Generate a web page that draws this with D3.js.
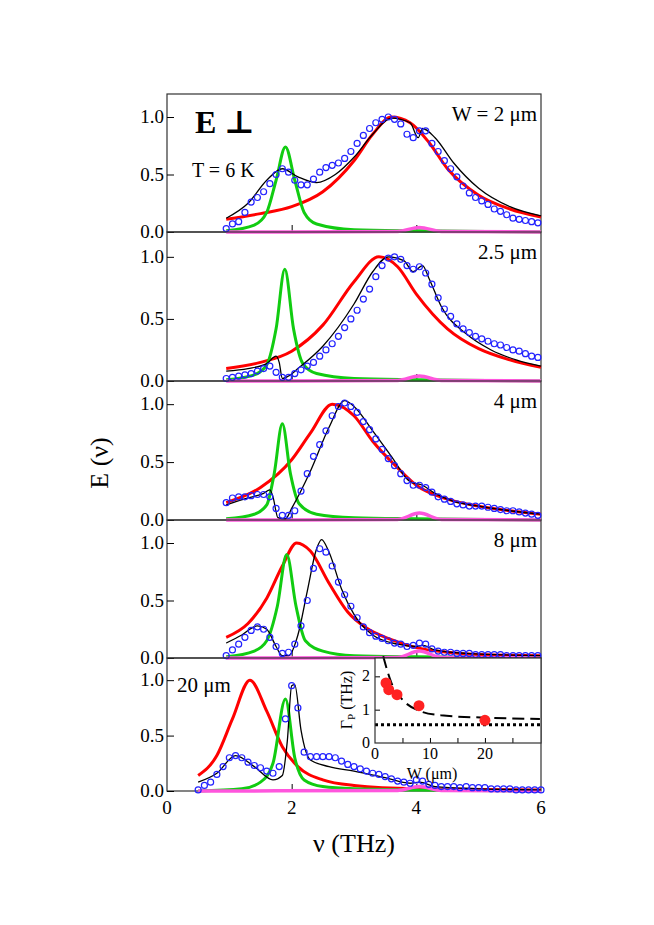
<!DOCTYPE html>
<html><head><meta charset="utf-8">
<script src="https://cdn.jsdelivr.net/npm/d3@7"></script>
<style>body{margin:0;background:#fff}text{font-family:"Liberation Serif","DejaVu Serif",serif}</style>
</head><body>
<script>
// panel labels
var labels = ["W = 2 \u03bcm", "2.5 \u03bcm", "4 \u03bcm", "8 \u03bcm", "20 \u03bcm"];
var bounds = [94, 232, 381, 520, 658, 791];

// fitted curves, key points [THz, E]
var red = [
  [[0.95,0.11],[1.5,0.16],[2,0.22],[2.5,0.35],[3,0.62],[3.3,0.85],[3.6,1.0],[3.9,0.95],[4.2,0.78],[4.5,0.55],[5,0.32],[5.5,0.2],[6,0.13]],
  [[0.95,0.1],[1.5,0.15],[2,0.24],[2.5,0.45],[3,0.8],[3.4,1.0],[3.7,0.92],[4,0.7],[4.5,0.42],[5,0.26],[5.5,0.17],[6,0.11]],
  [[0.95,0.15],[1.5,0.28],[2,0.52],[2.3,0.75],[2.65,1.0],[3,0.9],[3.3,0.68],[3.7,0.45],[4,0.3],[4.5,0.18],[5,0.12],[5.5,0.08],[6,0.05]],
  [[0.95,0.18],[1.3,0.3],[1.6,0.52],[1.85,0.8],[2.08,1.0],[2.3,0.93],[2.6,0.65],[2.9,0.4],[3.2,0.26],[3.6,0.16],[4,0.09],[4.5,0.05],[5,0.03],[6,0.02]],
  [[0.5,0.14],[0.8,0.32],[1.05,0.65],[1.33,1.0],[1.6,0.72],[1.85,0.4],[2.1,0.22],[2.5,0.1],[3,0.05],[4,0.02],[6,0.01]]
];
var black = [
  [[0.95,0.12],[1.3,0.25],[1.6,0.45],[1.85,0.55],[2.1,0.48],[2.4,0.43],[2.7,0.5],[3.0,0.65],[3.3,0.85],[3.6,0.99],[3.9,0.95],[4.03,0.82],[4.1,0.9],[4.3,0.82],[4.6,0.6],[5,0.38],[5.5,0.22],[6,0.14]],
  [[0.95,0.08],[1.3,0.1],[1.6,0.14],[1.75,0.2],[1.8,0.15],[1.85,0.02],[1.95,0.04],[2.1,0.1],[2.5,0.28],[3,0.62],[3.3,0.88],[3.55,1.0],[3.8,0.97],[3.95,0.88],[4.1,0.93],[4.2,0.83],[4.4,0.6],[4.8,0.38],[5.2,0.25],[5.6,0.17],[6,0.12]],
  [[0.95,0.13],[1.3,0.19],[1.55,0.23],[1.65,0.26],[1.7,0.2],[1.78,0.02],[1.9,0.01],[2.0,0.1],[2.3,0.42],[2.6,0.8],[2.85,1.03],[3.0,0.98],[3.3,0.77],[3.6,0.55],[3.9,0.33],[4.1,0.3],[4.3,0.23],[4.6,0.16],[5,0.12],[5.5,0.08],[6,0.05]],
  [[0.95,0.13],[1.2,0.2],[1.45,0.28],[1.6,0.25],[1.75,0.1],[1.85,0.02],[1.95,0.02],[2.1,0.2],[2.25,0.58],[2.4,0.95],[2.48,1.03],[2.6,0.92],[2.8,0.6],[3.0,0.38],[3.3,0.2],[3.7,0.12],[4.0,0.1],[4.1,0.11],[4.3,0.07],[4.8,0.04],[6,0.02]],
  [[0.5,0.08],[0.8,0.16],[1.1,0.32],[1.4,0.22],[1.7,0.1],[1.85,0.14],[1.93,0.45],[2.0,0.95],[2.05,0.96],[2.15,0.55],[2.3,0.28],[2.6,0.22],[3,0.18],[3.5,0.12],[3.9,0.07],[4.05,0.08],[4.3,0.04],[5,0.02],[6,0.01]]
];
var green = [
  [[0.95,0.01],[1.4,0.06],[1.6,0.17],[1.75,0.45],[1.9,0.74],[2.05,0.45],[2.2,0.17],[2.4,0.07],[3,0.02],[4,0.01],[6,0]],
  [[0.95,0.01],[1.4,0.05],[1.6,0.13],[1.75,0.42],[1.89,0.9],[2.03,0.42],[2.18,0.14],[2.4,0.06],[3,0.02],[4,0.01],[6,0]],
  [[0.95,0.01],[1.4,0.05],[1.6,0.13],[1.72,0.4],[1.85,0.83],[1.98,0.4],[2.12,0.14],[2.4,0.05],[3,0.02],[4,0.01],[6,0]],
  [[0.95,0.01],[1.4,0.06],[1.6,0.15],[1.77,0.45],[1.92,0.9],[2.07,0.45],[2.22,0.15],[2.5,0.06],[3,0.02],[4,0.01],[6,0]],
  [[0.5,0],[1.2,0.02],[1.5,0.08],[1.7,0.25],[1.9,0.83],[2.05,0.3],[2.2,0.1],[2.5,0.04],[3,0.02],[4,0.01],[6,0]]
];
var pink = [
  [[0.95,0],[3.7,0.005],[4.05,0.04],[4.4,0.005],[6,0]],
  [[0.95,0],[3.7,0.005],[4.05,0.04],[4.4,0.005],[6,0]],
  [[0.95,0],[3.7,0.005],[4.05,0.06],[4.4,0.005],[6,0]],
  [[0.95,0],[3.7,0.005],[4.05,0.06],[4.4,0.005],[6,0]],
  [[0.5,0],[3.7,0.005],[4.05,0.04],[4.4,0.005],[6,0]]
];

// measured points, start + step 0.1 THz
var dataStart = [0.95, 0.95, 0.95, 0.95, 0.5];
var dataY = [
  [0.03,0.07,0.09,0.17,0.26,0.3,0.35,0.42,0.5,0.55,0.52,0.45,0.41,0.41,0.46,0.52,0.56,0.58,0.6,0.64,0.7,0.77,0.84,0.9,0.95,0.98,1.0,0.98,0.94,0.85,0.82,0.88,0.88,0.77,0.7,0.62,0.55,0.48,0.4,0.34,0.3,0.27,0.24,0.2,0.18,0.15,0.12,0.11,0.1,0.09,0.08],
  [0.02,0.03,0.04,0.05,0.06,0.08,0.1,0.12,0.07,0.03,0.03,0.06,0.09,0.12,0.15,0.2,0.25,0.3,0.36,0.43,0.5,0.57,0.66,0.74,0.84,0.93,0.99,1.0,0.98,0.93,0.9,0.92,0.87,0.78,0.67,0.58,0.52,0.46,0.42,0.39,0.36,0.34,0.32,0.3,0.29,0.27,0.25,0.24,0.22,0.2,0.19],
  [0.15,0.19,0.2,0.2,0.21,0.22,0.22,0.2,0.1,0.04,0.04,0.08,0.25,0.4,0.55,0.65,0.77,0.9,0.98,1.01,0.98,0.93,0.85,0.78,0.7,0.61,0.53,0.47,0.4,0.34,0.3,0.3,0.28,0.24,0.2,0.18,0.16,0.14,0.13,0.12,0.12,0.12,0.11,0.1,0.09,0.08,0.08,0.07,0.06,0.05,0.04],
  [0.02,0.07,0.12,0.18,0.24,0.27,0.25,0.18,0.1,0.04,0.05,0.12,0.28,0.5,0.78,0.95,0.92,0.8,0.66,0.55,0.45,0.35,0.27,0.22,0.19,0.17,0.15,0.13,0.12,0.1,0.11,0.13,0.12,0.08,0.06,0.05,0.05,0.04,0.04,0.04,0.03,0.03,0.03,0.03,0.03,0.02,0.02,0.02,0.02,0.02,0.02],
  [0.01,0.05,0.08,0.15,0.22,0.3,0.32,0.3,0.26,0.23,0.21,0.18,0.16,0.22,0.65,0.95,0.75,0.35,0.31,0.31,0.31,0.31,0.3,0.27,0.24,0.22,0.2,0.18,0.16,0.15,0.13,0.11,0.09,0.08,0.07,0.1,0.09,0.06,0.05,0.04,0.04,0.04,0.03,0.04,0.03,0.03,0.03,0.02,0.02,0.02,0.02,0.01,0.01,0.01,0.01,0.01]
];

// inset
var insetW = [2, 2.5, 4, 8, 20];
var insetG = [1.8, 1.6, 1.45, 1.12, 0.68];
var insetFit = [[1.5,2.6],[2,2.3],[3,1.8],[5,1.3],[8,0.97],[12,0.83],[20,0.76],[30,0.72]];
var insetLimit = 0.55;

var svg = d3.select("body").append("svg").attr("width", 654).attr("height", 925);
var x = d3.scaleLinear().domain([0, 6]).range([167, 541]);

bounds.slice(0, 5).forEach(function(top, i) {
  var bottom = bounds[i + 1];
  var y = d3.scaleLinear().domain([0, 1.2]).range([bottom, top]);
  var g = svg.append("g");
  var line = d3.line().x(function(d) { return x(d[0]); }).y(function(d) { return y(d[1]); }).curve(d3.curveMonotoneX);

  g.append("rect").attr("x", 167).attr("y", top).attr("width", 374).attr("height", bottom - top)
    .attr("fill", "none").attr("stroke", "#333").attr("stroke-width", 1.2);
  var ya = g.append("g").attr("transform", "translate(167,0)")
    .call(d3.axisRight(y).tickValues([0, 0.5, 1]).tickSize(7).tickFormat(""));
  ya.select(".domain").remove();
  g.selectAll(".ylab").data([0, 0.5, 1]).enter().append("text")
    .attr("x", 164).attr("y", function(d) { return y(d) + 6; })
    .attr("text-anchor", "end").attr("font-size", 19).text(d3.format(".1f"));
  var xa = g.append("g").attr("transform", "translate(0," + bottom + ")")
    .call(d3.axisTop(x).tickValues([2, 4]).tickSize(7).tickFormat(""));
  xa.select(".domain").remove();

  g.append("path").attr("d", line(red[i])).attr("fill", "none").attr("stroke", "#f00").attr("stroke-width", 3);
  g.append("path").attr("d", line(green[i])).attr("fill", "none").attr("stroke", "#1c1").attr("stroke-width", 3);
  g.append("path").attr("d", line(pink[i])).attr("fill", "none").attr("stroke", "#f5d").attr("stroke-width", 3.5);
  g.append("path").attr("d", line(black[i])).attr("fill", "none").attr("stroke", "#000").attr("stroke-width", 1.3);

  g.selectAll("circle").data(dataY[i]).enter().append("circle")
    .attr("cx", function(d, j) { return x(dataStart[i] + j * 0.1); })
    .attr("cy", function(d) { return y(d); })
    .attr("r", 3).attr("fill", "none").attr("stroke", "#22f").attr("stroke-width", 1.2);

  if (i < 4) {
    g.append("text").attr("x", 537).attr("y", top + 27).attr("text-anchor", "end").attr("font-size", 21).text(labels[i]);
  } else {
    g.append("text").attr("x", 177).attr("y", top + 34).attr("font-size", 21).text(labels[i]);
  }
});

svg.selectAll(".xlab").data([0, 2, 4, 6]).enter().append("text")
  .attr("x", function(d) { return x(d); }).attr("y", 814).attr("text-anchor", "middle").attr("font-size", 19).text(function(d) { return d; });

svg.append("text").attr("x", 354).attr("y", 852).attr("text-anchor", "middle").attr("font-size", 26).text("\u03bd (THz)");
svg.append("text").attr("transform", "translate(108,463) rotate(-90)").attr("text-anchor", "middle").attr("font-size", 26).text("E (\u03bd)");
svg.append("text").attr("x", 195).attr("y", 133).attr("font-size", 32).attr("font-weight", "bold").text("E \u22a5");
svg.append("text").attr("x", 192).attr("y", 177).attr("font-size", 20).text("T = 6 K");

// inset
var ix = d3.scaleLinear().domain([0, 30.2]).range([375, 541]);
var iy = d3.scaleLinear().domain([0, 2.55]).range([743, 658]);
var ig = svg.append("g");
ig.append("rect").attr("x", 375).attr("y", 658).attr("width", 166).attr("height", 85).attr("fill", "#fff");
var iline = d3.line().x(function(d) { return ix(d[0]); }).y(function(d) { return iy(d[1]); }).curve(d3.curveMonotoneX);
ig.append("path").attr("d", iline(insetFit)).attr("fill", "none").attr("stroke", "#000").attr("stroke-width", 2).attr("stroke-dasharray", "12,6");
ig.append("line").attr("x1", ix(0)).attr("x2", ix(30.2)).attr("y1", iy(insetLimit)).attr("y2", iy(insetLimit))
  .attr("stroke", "#000").attr("stroke-width", 3).attr("stroke-dasharray", "3,3");
ig.selectAll("circle").data(insetW).enter().append("circle")
  .attr("cx", function(d) { return ix(d); }).attr("cy", function(d, j) { return iy(insetG[j]); })
  .attr("r", 5.5).attr("fill", "#f22");
var ixa = ig.append("g").attr("transform", "translate(0,743)")
  .call(d3.axisTop(ix).tickValues([5, 10, 15, 20, 25]).tickSize(5).tickFormat(""));
ixa.select(".domain").remove();
var iya = ig.append("g").attr("transform", "translate(375,0)")
  .call(d3.axisRight(iy).tickValues([1, 2]).tickSize(5).tickFormat(""));
iya.select(".domain").remove();
ig.append("rect").attr("x", 375).attr("y", 658).attr("width", 166).attr("height", 85).attr("fill", "none").attr("stroke", "#333").attr("stroke-width", 1.2);
ig.selectAll(".ixl").data([0, 10, 20]).enter().append("text")
  .attr("x", function(d) { return ix(d); }).attr("y", 759).attr("text-anchor", "middle").attr("font-size", 16).text(function(d) { return d; });
ig.selectAll(".iyl").data([0, 1, 2]).enter().append("text")
  .attr("x", 370).attr("y", function(d) { return iy(d) + 5; }).attr("text-anchor", "end").attr("font-size", 16).text(function(d) { return d; });
ig.append("text").attr("x", 432).attr("y", 779).attr("text-anchor", "middle").attr("font-size", 16).text("W (\u03bcm)");
var t = ig.append("text").attr("transform", "translate(352,700) rotate(-90)").attr("text-anchor", "middle").attr("font-size", 16);
t.append("tspan").text("\u0393");
t.append("tspan").attr("font-size", 11).attr("dy", 3).text("P");
t.append("tspan").attr("dy", -3).text(" (THz)");
</script>
</body></html>
